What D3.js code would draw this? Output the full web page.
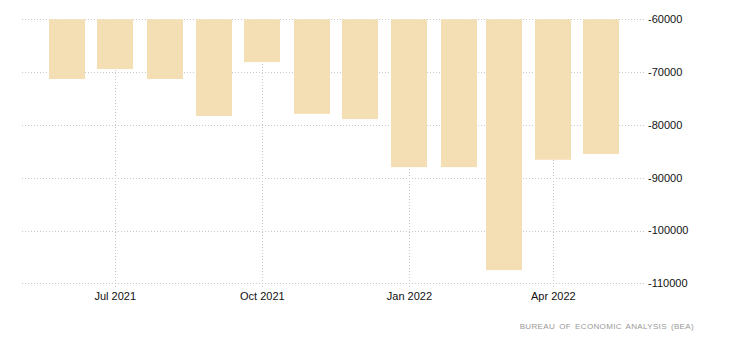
<!DOCTYPE html>
<html><head><meta charset="utf-8">
<script src="https://cdn.jsdelivr.net/npm/d3@7"></script>
<style>body{margin:0;background:#fff}svg{display:block}</style>
</head><body>
<svg id="c" width="730" height="343"></svg>
<script>
const months = ["2021-06-01","2021-07-01","2021-08-01","2021-09-01","2021-10-01","2021-11-01","2021-12-01","2022-01-01","2022-02-01","2022-03-01","2022-04-01","2022-05-01"];
const values = [-71300,-69400,-71300,-78300,-68100,-77900,-78900,-88000,-88000,-107500,-86600,-85500];
const xTickDates = ["2021-07-01","2021-10-01","2022-01-01","2022-04-01"];
const xTickLabels = ["Jul 2021","Oct 2021","Jan 2022","Apr 2022"];
const yTicks = [-60000,-70000,-80000,-90000,-100000,-110000];
const source = "BUREAU OF ECONOMIC ANALYSIS (BEA)";

(function(){
const parse = d3.utcParse("%Y-%m-%d");
const svg = d3.select("#c");
const pL = 22, pR = 645, pT = 19.3, pB = 283.3;
const x = d3.scaleUtc().domain([parse("2021-07-01"), parse("2022-04-01")]).range([115.3, 553.3]);
const y = d3.scaleLinear().domain([-60000, -110000]).range([pT, pB]);
const barW = 36;

const grid = svg.append("g").attr("stroke","#c8c8c8").attr("stroke-dasharray","1,2").attr("shape-rendering","crispEdges");
grid.selectAll("line.h").data(yTicks).join("line")
  .attr("x1", pL).attr("x2", pR)
  .attr("y1", d => Math.round(y(d))+0.5).attr("y2", d => Math.round(y(d))+0.5);
grid.selectAll("line.v").data(xTickDates).join("line")
  .attr("x1", d => Math.round(x(parse(d)))+0.5).attr("x2", d => Math.round(x(parse(d)))+0.5)
  .attr("y1", pT).attr("y2", 288);

svg.append("g").selectAll("rect").data(months.map((m,i)=>({d:parse(m),v:values[i]}))).join("rect")
  .attr("x", d => Math.round(x(d.d) - barW/2))
  .attr("width", barW)
  .attr("y", y(-60000))
  .attr("height", d => y(d.v) - y(-60000))
  .attr("fill", "#f4deb3");

svg.append("g").selectAll("text").data(yTicks).join("text")
  .attr("x", 648).attr("y", d => y(d)).attr("dy","0.35em")
  .attr("font-family","Liberation Sans, Arial, sans-serif").attr("font-size",11).attr("fill","#111")
  .text(d => d);

svg.append("g").selectAll("text").data(xTickDates).join("text")
  .attr("x", d => x(parse(d))).attr("y", 300).attr("text-anchor","middle")
  .attr("font-family","Liberation Sans, Arial, sans-serif").attr("font-size",11).attr("fill","#111")
  .text((d,i) => xTickLabels[i]);

svg.append("text").attr("x", 694).attr("y", 328.5).attr("text-anchor","end")
  .attr("font-family","Liberation Sans, Arial, sans-serif").attr("font-size",8).attr("letter-spacing","0.35px").attr("word-spacing","1.5px").attr("fill","#999")
  .text(source);
})();
</script>
</body></html>
